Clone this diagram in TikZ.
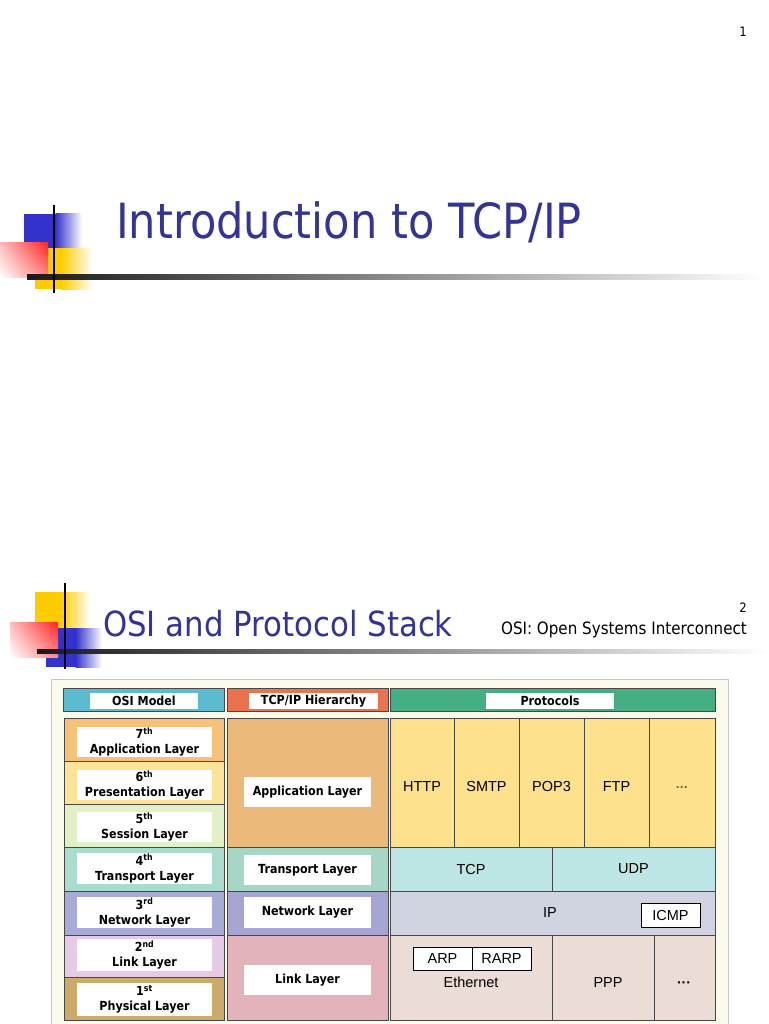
\documentclass[tikz,border=0pt]{standalone}
\usepackage{fontspec}
\usetikzlibrary{shadings}
\newfontfamily\tah{DejaVu Sans}[FakeStretch=0.89]
\newfontfamily\arl{Liberation Sans}
\definecolor{navy}{HTML}{333399}
\definecolor{dblue}{HTML}{3333CC}
\definecolor{dyel}{HTML}{FFCC00}
\definecolor{dred}{HTML}{FF2222}
\definecolor{cream}{HTML}{FCFAEA}
\definecolor{hosiC}{HTML}{5BBCD0}
\definecolor{htcpC}{HTML}{E8734C}
\definecolor{hproC}{HTML}{44AD82}
\definecolor{o7C}{HTML}{F6C27A}
\definecolor{o6C}{HTML}{FDE397}
\definecolor{o5C}{HTML}{E3F0C6}
\definecolor{o4C}{HTML}{A9DCCD}
\definecolor{o3C}{HTML}{A8ABD6}
\definecolor{o2C}{HTML}{E5CBE5}
\definecolor{o1C}{HTML}{CBAA6A}
\definecolor{tappC}{HTML}{EBB979}
\definecolor{ttrC}{HTML}{A7D6C6}
\definecolor{tnetC}{HTML}{A6A4D1}
\definecolor{tlinkC}{HTML}{E3B3BC}
\definecolor{pappC}{HTML}{FDE18C}
\definecolor{ptrC}{HTML}{BDE6E4}
\definecolor{pnetC}{HTML}{CFD4E0}
\definecolor{plinkC}{HTML}{EBDDD6}
\begin{document}
\begin{tikzpicture}[x=1pt,y=-1pt,
  cell/.style={draw=black!72, line width=0.9pt, fill=#1, anchor=north west, inner sep=0pt, outer sep=0pt},
  lbl/.style={fill=white, inner sep=0pt, align=center, font=\tah\bfseries\fontsize{12.5}{15}\selectfont},
  hlbl/.style={fill=white, inner sep=0pt, font=\tah\bfseries\fontsize{12.5}{14}\selectfont},
  proto/.style={font=\arl\fontsize{14.5}{16}\selectfont, text=black},
  pagenum/.style={inner sep=0pt, font=\tah\fontsize{13}{15}\selectfont},
  ttl/.style={inner sep=0pt, text=navy, anchor=base west},
  dline/.style={line width=1.5pt, black}
]
\useasboundingbox (0,0) rectangle (768,1024);
\fill[white] (0,0) rectangle (768,1024);

% ---------- slide 1 ----------
\node[pagenum, anchor=base east] (n1) at (747,37) {1};
\fill[dblue] (24,214) rectangle (56,250);
\shade[left color=dblue, right color=white] (55.5,214) rectangle (82,250);
\fill[dyel] (35,248) rectangle (62,289);
\shade[left color=dyel, right color=white] (61.5,248) rectangle (92,289);
\shade[upper left=dred!30, upper right=dred, lower left=white, lower right=dred!55] (0,242) rectangle (48,277);
\shade[left color=black!90, middle color=black!45, right color=white] (27,274.5) rectangle (762,279);
\draw[dline] (54,205) -- (54,293);
\node[ttl, font=\tah\fontsize{48.5}{56}\selectfont] (t1) at (116,238) {Introduction to TCP/IP};

% ---------- slide 2 ----------
\node[pagenum, anchor=base east] (n2) at (747,612) {2};
\fill[dyel] (35,592) rectangle (62,628);
\shade[left color=dyel, right color=white] (61.5,592) rectangle (90,628);
\fill[dblue] (46,628) rectangle (76,667);
\shade[left color=dblue, right color=white] (75.5,628) rectangle (102,667);
\shade[upper left=dred!30, upper right=dred, lower left=white, lower right=dred!55] (10,622) rectangle (58,657);
\shade[left color=black!90, middle color=black!45, right color=white] (37,649) rectangle (768,653.5);
\draw[dline] (65,583) -- (65,669);
\node[ttl, font=\tah\fontsize{34.6}{42}\selectfont] (t2) at (103,636) {OSI and Protocol Stack};
\node[inner sep=0pt, anchor=base east, font=\tah\fontsize{17}{19}\selectfont] (sub) at (747,634) {OSI: Open Systems Interconnect};

% frame
\draw[draw=black!22, fill=cream, line width=0.8pt] (51,679) rectangle (728,1030);

% headers
\node[cell=hosiC, minimum width=161pt, minimum height=23pt] (hosi) at (63,688) {};
\node[cell=htcpC, minimum width=161pt, minimum height=23pt] (htcp) at (227,688) {};
\node[cell=hproC, minimum width=325pt, minimum height=23pt] (hpro) at (390,688) {};
\node[hlbl, minimum width=108pt, minimum height=16pt] (hosiL) at (144,701) {OSI Model};
\node[hlbl, minimum width=129pt, minimum height=16pt] (htcpL) at (313.5,701) {TCP/IP Hierarchy};
\node[hlbl, minimum width=128pt, minimum height=16pt] (hproL) at (550,701) {Protocols};

% OSI column
\node[cell=o7C, minimum width=160pt, minimum height=43pt] (o7) at (64,718) {};
\node[cell=o6C, minimum width=160pt, minimum height=43pt] (o6) at (64,761) {};
\node[cell=o5C, minimum width=160pt, minimum height=43pt] (o5) at (64,804) {};
\node[cell=o4C, minimum width=160pt, minimum height=44pt] (o4) at (64,847) {};
\node[cell=o3C, minimum width=160pt, minimum height=44pt] (o3) at (64,891) {};
\node[cell=o2C, minimum width=160pt, minimum height=42pt] (o2) at (64,935) {};
\node[cell=o1C, minimum width=160pt, minimum height=43pt] (o1) at (64,977) {};
\node[lbl, minimum width=135pt, minimum height=30pt] (o7L) at (144.5,742) {7\textsuperscript{th}\\Application Layer};
\node[lbl, minimum width=135pt, minimum height=30pt] (o6L) at (144.5,785) {6\textsuperscript{th}\\Presentation Layer};
\node[lbl, minimum width=135pt, minimum height=30pt] (o5L) at (144.5,827) {5\textsuperscript{th}\\Session Layer};
\node[lbl, minimum width=135pt, minimum height=31pt] (o4L) at (144.5,868.5) {4\textsuperscript{th}\\Transport Layer};
\node[lbl, minimum width=135pt, minimum height=31pt] (o3L) at (144.5,912.5) {3\textsuperscript{rd}\\Network Layer};
\node[lbl, minimum width=135pt, minimum height=32pt] (o2L) at (144.5,955) {2\textsuperscript{nd}\\Link Layer};
\node[lbl, minimum width=135pt, minimum height=33pt] (o1L) at (144.5,999.5) {1\textsuperscript{st}\\Physical Layer};

% TCP/IP column
\node[cell=tappC, minimum width=161pt, minimum height=129pt] (tapp) at (227,718) {};
\node[cell=ttrC, minimum width=161pt, minimum height=44pt] (ttr) at (227,847) {};
\node[cell=tnetC, minimum width=161pt, minimum height=44pt] (tnet) at (227,891) {};
\node[cell=tlinkC, minimum width=161pt, minimum height=85pt] (tlink) at (227,935) {};
\node[lbl, minimum width=127pt, minimum height=30pt] (tappL) at (307.5,792) {Application Layer};
\node[lbl, minimum width=127pt, minimum height=30pt] (ttrL) at (307.5,870) {Transport Layer};
\node[lbl, minimum width=127pt, minimum height=31pt] (tnetL) at (307.5,912.5) {Network Layer};
\node[lbl, minimum width=127pt, minimum height=30pt] (tlinkL) at (307.5,980) {Link Layer};

% Protocols column
\node[cell=pappC, minimum width=64pt, minimum height=129pt] (http) at (390,718) {};
\node[cell=pappC, minimum width=65pt, minimum height=129pt] (smtp) at (454,718) {};
\node[cell=pappC, minimum width=65pt, minimum height=129pt] (pop3) at (519,718) {};
\node[cell=pappC, minimum width=65pt, minimum height=129pt] (ftp) at (584,718) {};
\node[cell=pappC, minimum width=66pt, minimum height=129pt] (pdots) at (649,718) {};
\node[proto, anchor=base] (httpL) at (422,791) {HTTP};
\node[proto, anchor=base] (smtpL) at (486.5,791) {SMTP};
\node[proto, anchor=base] (pop3L) at (551.5,791) {POP3};
\node[proto, anchor=base] (ftpL) at (616.5,791) {FTP};
\node[proto, anchor=base, font=\arl\bfseries\fontsize{12}{14}\selectfont, text=black!70] (pdotsL) at (682,791) {···};
\node[cell=ptrC, minimum width=162pt, minimum height=44pt, proto] (tcp) at (390,847) {TCP};
\node[cell=ptrC, minimum width=163pt, minimum height=44pt, proto] (udp) at (552,847) {UDP};
\node[cell=pnetC, minimum width=325pt, minimum height=44pt] (ip) at (390,891) {};
\node[proto] (ipL) at (550,913) {IP};
\node[draw=black, line width=0.9pt, fill=white, inner sep=0pt, minimum width=59pt, minimum height=24pt, proto] (icmp) at (670.5,915) {ICMP};
\node[cell=plinkC, minimum width=162pt, minimum height=85pt] (eth) at (390,935) {};
\node[cell=plinkC, minimum width=102pt, minimum height=85pt] (ppp) at (552,935) {};
\node[cell=plinkC, minimum width=61pt, minimum height=85pt] (ldots) at (654,935) {};
\node[draw=black, line width=0.9pt, fill=white, inner sep=0pt, minimum width=59pt, minimum height=23pt, proto] (arp) at (442.5,958.5) {ARP};
\node[draw=black, line width=0.9pt, fill=white, inner sep=0pt, minimum width=59pt, minimum height=23pt, proto] (rarp) at (501.5,958.5) {RARP};
\node[proto] (ethL) at (471,982) {Ethernet};
\node[proto] (pppL) at (608,982) {PPP};
\node[proto, font=\arl\bfseries\fontsize{14}{16}\selectfont] (ldotsL) at (684,985) {···};
\end{tikzpicture}
\end{document}
